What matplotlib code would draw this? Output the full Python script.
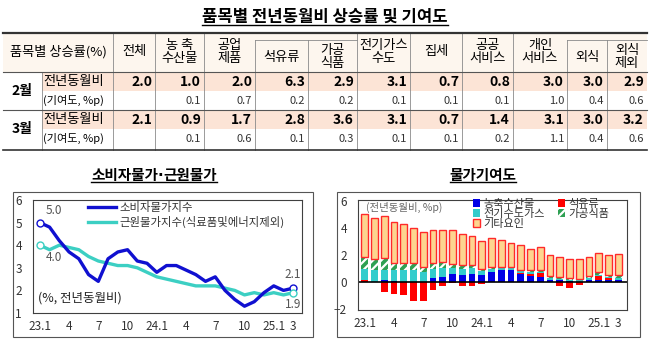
import numpy as np
import matplotlib
matplotlib.use('Agg')
import matplotlib.pyplot as plt
from matplotlib.patches import Rectangle, Patch

plt.rcParams['font.family'] = ['Noto Sans CJK KR', 'DejaVu Sans']
plt.rcParams['hatch.linewidth'] = 1.6

W, H = 650, 351

# ---- table data ----
col_names = ['전체', '농 축\n수산물', '공업\n제품', '석유류', '가공\n식품', '전기가스\n수도',
             '집세', '공공\n서비스', '개인\n서비스', '외식', '외식\n제외']
feb_rate = [2.0, 1.0, 2.0, 6.3, 2.9, 3.1, 0.7, 0.8, 3.0, 3.0, 2.9]
feb_contrib = [None, 0.1, 0.7, 0.2, 0.2, 0.1, 0.1, 0.1, 1.0, 0.4, 0.6]
mar_rate = [2.1, 0.9, 1.7, 2.8, 3.6, 3.1, 0.7, 1.4, 3.1, 3.0, 3.2]
mar_contrib = [None, 0.1, 0.6, 0.1, 0.3, 0.1, 0.1, 0.2, 1.1, 0.4, 0.6]

# ---- line chart data (23.1 ~ 25.3) ----
cpi = [5.0, 4.8, 4.2, 3.7, 3.4, 2.7, 2.4, 3.4, 3.7, 3.8, 3.3, 3.2, 2.8,
       3.1, 3.1, 2.9, 2.7, 2.4, 2.6, 2.0, 1.6, 1.3, 1.5, 1.9, 2.2, 2.0, 2.1]
core = [4.0, 3.8, 4.0, 3.9, 3.8, 3.5, 3.3, 3.2, 3.1, 3.1, 3.0, 2.8, 2.6,
        2.5, 2.4, 2.3, 2.2, 2.2, 2.2, 2.1, 2.0, 1.8, 1.9, 1.8, 1.9, 1.8, 1.9]

# ---- contribution data (%p) ----
agri = [0.0, 0.0, 0.15, 0.05, 0.0, 0.0, 0.0, 0.25, 0.35, 0.55, 0.5, 0.55, 0.5,
        0.75, 0.85, 0.85, 0.55, 0.45, 0.35, 0.15, 0.1, 0.05, 0.0, 0.1, 0.15, 0.1, 0.1]
petro = [0.15, -0.05, -0.8, -0.9, -1.0, -1.4, -1.4, -0.6, -0.3, -0.1, -0.3, -0.3, -0.2,
         -0.05, 0.0, 0.0, 0.1, 0.15, 0.3, 0.0, -0.3, -0.5, -0.25, 0.05, 0.25, 0.15, 0.05]
util = [0.8, 0.85, 0.75, 0.85, 0.85, 0.85, 0.7, 0.7, 0.65, 0.45, 0.45, 0.45, 0.3,
        0.2, 0.15, 0.15, 0.15, 0.1, 0.1, 0.1, 0.1, 0.1, 0.1, 0.1, 0.1, 0.1, 0.1]
proc = [0.9, 0.85, 0.85, 0.5, 0.5, 0.5, 0.35, 0.45, 0.45, 0.3, 0.25, 0.2, 0.15,
        0.1, 0.05, 0.05, 0.1, 0.15, 0.15, 0.15, 0.15, 0.1, 0.1, 0.15, 0.2, 0.15, 0.25]
other = [3.15, 3.0, 3.1, 3.05, 2.9, 2.65, 2.6, 2.45, 2.4, 2.5, 2.3, 2.15, 2.05,
         2.15, 2.0, 1.85, 1.8, 1.6, 1.65, 1.55, 1.45, 1.45, 1.5, 1.4, 1.45, 1.45, 1.55]

tick_pos = [0, 3, 6, 9, 12, 15, 18, 21, 24, 26]
tick_labels = ['23.1', '4', '7', '10', '24.1', '4', '7', '10', '25.1', '3']


def box(x0, y0, x1, y1):
    return [x0 / W, 1 - y1 / H, (x1 - x0) / W, (y1 - y0) / H]


fig = plt.figure(figsize=(6.5, 3.51), dpi=100)
bg = fig.add_axes([0, 0, 1, 1])
bg.set_xlim(0, W)
bg.set_ylim(H, 0)
bg.axis('off')

title = bg.text(325, 17, '품목별 전년동월비 상승률 및 기여도', ha='center', va='center',
                fontsize=12, fontweight='bold')

# table background
bg.add_patch(Rectangle((3, 33), 644, 39, fc='#FDF6EE', ec='none'))
bg.add_patch(Rectangle((42, 73), 605, 18, fc='#FCE4D6', ec='none'))
bg.add_patch(Rectangle((42, 111), 605, 18, fc='#FCE4D6', ec='none'))

edges = [113, 155, 204, 255, 308, 357, 410, 462, 513, 567, 607, 647]
sub_cols = [3, 4, 9, 10]
line_c = '#8a8a8a'
for x in edges[:-1]:
    top = 40 if x in (255, 308, 567, 607) else 33
    bg.plot([x, x], [top, 150], color=line_c, lw=0.6)
bg.plot([42, 42], [72, 150], color=line_c, lw=0.6)
bg.plot([255, 357], [40, 40], color=line_c, lw=0.6)
bg.plot([567, 647], [40, 40], color=line_c, lw=0.6)
bg.plot([3, 647], [33, 33], color='#333333', lw=1.6)
bg.plot([3, 647], [72, 72], color='#555555', lw=0.8)
bg.plot([3, 647], [110, 110], color='#555555', lw=0.8)
bg.plot([3, 647], [150, 150], color='#333333', lw=1.2)

bg.text(58, 52, '품목별 상승률(%)', ha='center', va='center', fontsize=9.5)
for j, name in enumerate(col_names):
    cx = (edges[j] + edges[j + 1]) / 2
    cy = 57 if j in sub_cols else 52
    bg.text(cx, cy, name, ha='center', va='center', fontsize=9.5, linespacing=0.95)

for (month, rate, contrib, y0) in [('2월', feb_rate, feb_contrib, 73),
                                   ('3월', mar_rate, mar_contrib, 111)]:
    bg.text(22, y0 + 18, month, ha='center', va='center', fontsize=10, fontweight='bold')
    bg.text(43, y0 + 9, '전년동월비', ha='left', va='center', fontsize=9.5)
    bg.text(43, y0 + 27, '(기여도, %p)', ha='left', va='center', fontsize=8)
    for j in range(len(col_names)):
        xr = edges[j + 1] - 3
        bg.text(xr, y0 + 9, f'{rate[j]:.1f}', ha='right', va='center',
                fontsize=10, fontweight='bold')
        if contrib[j] is not None:
            bg.text(xr, y0 + 28, f'{contrib[j]:.1f}', ha='right', va='center',
                    fontsize=8, color='#333333')

# chart frames and titles
bg.add_patch(Rectangle((13, 192), 300, 145, fill=False, ec='#555555', lw=0.8))
bg.add_patch(Rectangle((337, 192), 303, 145, fill=False, ec='#555555', lw=0.8))
t1a = bg.text(158, 175, '소비자물가', ha='right', va='center', fontsize=10.5, fontweight='bold')
bg.text(160.5, 175, '·', ha='center', va='center', fontsize=10.5, fontweight='bold',
        family='DejaVu Sans')
t1b = bg.text(163, 175, '근원물가', ha='left', va='center', fontsize=10.5, fontweight='bold')
t2 = bg.text(483, 175, '물가기여도', ha='center', va='center',
             fontsize=10.5, fontweight='bold')

x = np.arange(len(cpi))

# ---- left: CPI vs core ----
ax1 = fig.add_axes(box(33, 200, 302, 313))
blue = '#1010D0'
teal = '#3CCFC3'
ax1.plot(x, core, color=teal, lw=2.4, label='근원물가지수(식료품및에너지제외)', zorder=2)
ax1.plot(x, cpi, color=blue, lw=2.4, label='소비자물가지수', zorder=3)
ax1.plot([x[0], x[-1]], [cpi[0], cpi[-1]], 'o', mfc='white', mec=blue, ms=5, mew=1, zorder=4)
ax1.plot([x[0], x[-1]], [core[0], core[-1]], 'o', mfc='white', mec=teal, ms=5, mew=1, zorder=4)
ann = dict(fontsize=8.5, color='#555555', textcoords='offset points')
ax1.annotate(f'{cpi[0]:.1f}', (x[0], cpi[0]), xytext=(4, 4), ha='left', va='bottom', **ann)
ax1.annotate(f'{core[0]:.1f}', (x[0], core[0]), xytext=(4, -4), ha='left', va='top', **ann)
ax1.annotate(f'{cpi[-1]:.1f}', (x[-1], cpi[-1]), xytext=(0, 5), ha='center', va='bottom', **ann)
ax1.annotate(f'{core[-1]:.1f}', (x[-1], core[-1]), xytext=(0, -4), ha='center', va='top', **ann)
ax1.set_xlim(-0.7, 26.9)
ax1.set_ylim(1, 6)
ax1.set_yticks(range(1, 7))
ax1.set_xticks(tick_pos)
ax1.set_xticklabels(tick_labels)
ax1.tick_params(length=0, labelsize=8.5, labelcolor='#333333')
ax1.tick_params(axis='y', pad=8)
ax1.tick_params(axis='x', pad=5)
for s in ax1.spines.values():
    s.set_color('#404040')
    s.set_linewidth(0.8)
h, l = ax1.get_legend_handles_labels()
ax1.legend(h[::-1], l[::-1], loc='upper left', bbox_to_anchor=((86 - 33) / 269, 1.0),
           frameon=False, fontsize=8.2, handlelength=2.4, labelspacing=0.2,
           borderpad=0.2, borderaxespad=0, handletextpad=0.3, labelcolor='#333333')
ax1.text(0.02, 0.13, '(%, 전년동월비)', transform=ax1.transAxes, fontsize=9,
         va='center', ha='left', color='#222222')

# ---- right: contributions ----
ax2 = fig.add_axes(box(358, 200, 627, 310))
c_agri, c_petro, c_util, c_proc, c_other, c_edge = '#0000E6', '#FF0000', '#33CCCC', '#2EA052', '#FDD58F', '#FF2A2A'
bw = 0.7
agri_a = np.array(agri)
petro_a = np.array(petro)
pos_petro = np.clip(petro_a, 0, None)
neg_petro = np.clip(petro_a, None, 0)
b1 = agri_a + pos_petro
b2 = b1 + np.array(util)
b3 = b2 + np.array(proc)
ax2.bar(x, agri_a, bw, color=c_agri, lw=0)
ax2.bar(x, pos_petro, bw, bottom=agri_a, color=c_petro, lw=0)
ax2.bar(x, neg_petro, bw, color=c_petro, lw=0)
ax2.bar(x, util, bw, bottom=b1, color=c_util, lw=0)
ax2.bar(x, proc, bw, bottom=b2, color=c_proc, ec='white', lw=0, hatch='////')
ax2.bar(x, other, bw, bottom=b3, color=c_other, ec=c_edge, lw=1.0)
ax2.axhline(0, color='black', lw=1.2)
ax2.set_xlim(-0.7, 26.9)
ax2.set_ylim(-2.1, 6.05)
ax2.set_yticks([-2, 0, 2, 4, 6])
ax2.set_xticks(tick_pos)
ax2.set_xticklabels(tick_labels)
ax2.tick_params(length=0, labelsize=8.5, labelcolor='#333333')
ax2.tick_params(axis='y', pad=8)
ax2.tick_params(axis='x', pad=5)
for s in ax2.spines.values():
    s.set_color('#404040')
    s.set_linewidth(0.8)
handles = [Patch(fc=c_agri), Patch(fc=c_util), Patch(fc=c_other, ec=c_edge, lw=1),
           Patch(fc=c_petro), Patch(fc=c_proc, ec='white', lw=0, hatch='////')]
labels = ['농축수산물', '전기수도가스', '기타요인', '석유류', '가공식품']
ax2.legend(handles, labels, ncol=2, loc='upper left', bbox_to_anchor=((472 - 358) / 269, 1.02),
           frameon=False, fontsize=8, handlelength=0.6, handleheight=0.6,
           labelspacing=0.0, borderpad=0.1, borderaxespad=0, handletextpad=0.3,
           columnspacing=1.2, labelcolor='#333333')
ax2.text(0.03, 0.935, '(전년동월비, %p)', transform=ax2.transAxes, fontsize=7.5,
         va='center', ha='left', color='#666666')

# underlines under titles
fig.canvas.draw()
inv = bg.transData.inverted()


def underline(t_left, t_right):
    a = t_left.get_window_extent()
    b = t_right.get_window_extent()
    (x0, y0), (x1, y1) = inv.transform([[a.x0, a.y0], [b.x1, b.y1]])
    y = max(y0, y1) - 1
    bg.plot([x0, x1], [y, y], color='black', lw=1.0)


underline(title, title)
underline(t1a, t1b)
underline(t2, t2)

fig.savefig('out.png', dpi=100)
